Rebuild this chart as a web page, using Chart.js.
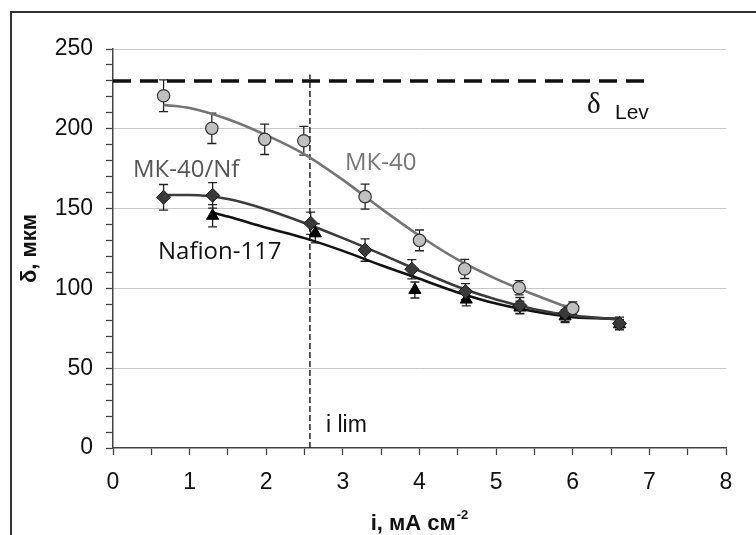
<!DOCTYPE html>
<html><head><meta charset="utf-8">
<script src="https://cdn.jsdelivr.net/npm/chart.js@4.4.0/dist/chart.umd.min.js"></script>
<style>html,body{margin:0;padding:0;background:#fff}canvas{display:block}</style>
</head><body>
<canvas id="c" width="756" height="535"></canvas>
<script>
// ---- data ----
const xTickValues = [0,1,2,3,4,5,6,7,8];
const yTickValues = [0,50,100,150,200,250];

const mk40X   = [0.66,1.29,1.98,2.49,3.29,4.0,4.59,5.3,6.0];
const mk40Y   = [220.7,200.3,193.4,192.5,157.5,130.1,112.2,100.4,87.5];
const mk40Err = [10,9.5,9.5,9,7.8,6.5,6,4.5,4];

const mknfX   = [0.66,1.3,2.58,3.29,3.9,4.6,5.31,5.9,6.61];
const mknfY   = [157.1,158.3,140.8,124,112,98,89.3,84.4,78];
const mknfErr = [8,8,7,7,6,5,5,5,4];

const nafX    = [1.3,2.64,3.94,4.61,5.31,5.9,6.61];
const nafY    = [145.5,134.5,99,93,88,82.5,77.5];
const nafErr  = [7,6,5,4,4,4,3];

const mk40FitX = [0.66,1.0,1.5,2.0,2.5,3.0,3.5,4.0,4.5,5.0,5.5,6.0];
const mk40FitY = [215,213,206,196,184,168,150,133,118,106,96,87];
const mknfFitX = [0.66,1.0,1.5,2.0,2.5,3.0,3.5,4.0,4.5,5.0,5.5,6.0,6.62];
const mknfFitY = [158.5,158.5,156,149.5,141,131.5,121.5,111,101,93,87,83,80.5];
const nafFitX  = [1.3,1.5,2.0,2.5,3.0,3.5,4.0,4.5,5.0,5.5,6.0,6.62];
const nafFitY  = [147.5,145,138,131.5,123.5,114.5,106,97.5,90.5,85.5,82,81];

const levY = 230, levX = [0,7];
const iLimX = 2.57, iLimTop = 234;

const pts = (xs, ys) => xs.map((x,i)=>({x, y: ys[i]}));

const errSeries = [
  {x: mk40X, y: mk40Y, e: mk40Err},
  {x: mknfX, y: mknfY, e: mknfErr},
  {x: nafX,  y: nafY,  e: nafErr}
];

const annot = {
  id: 'annot',
  beforeDatasetsDraw(chart){
    const {ctx, scales:{x, y}} = chart;
    ctx.save();
    ctx.strokeStyle = '#222'; ctx.lineWidth = 1.3;
    for (const s of errSeries){
      for (let i=0;i<s.x.length;i++){
        const px = x.getPixelForValue(s.x[i]);
        const t = y.getPixelForValue(s.y[i]+s.e[i]);
        const b = y.getPixelForValue(s.y[i]-s.e[i]);
        ctx.beginPath();
        ctx.moveTo(px,t); ctx.lineTo(px,b);
        ctx.moveTo(px-4.5,t); ctx.lineTo(px+4.5,t);
        ctx.moveTo(px-4.5,b); ctx.lineTo(px+4.5,b);
        ctx.stroke();
      }
    }
    ctx.restore();
  },
  afterDraw(chart){
    const {ctx, scales:{x, y}} = chart;
    ctx.save();
    // frame
    ctx.strokeStyle = '#333'; ctx.lineWidth = 2;
    ctx.beginPath(); ctx.moveTo(11,535); ctx.lineTo(11,12); ctx.lineTo(756,12); ctx.stroke();
    // series labels
    ctx.textBaseline = 'alphabetic'; ctx.textAlign = 'left';
    ctx.font = '24px "Open Sans"';
    ctx.fillStyle = '#555'; ctx.fillText('МК-40/Nf', 133, 177);
    ctx.fillStyle = '#777'; ctx.fillText('МК-40', 345, 170);
    ctx.fillStyle = '#111'; ctx.fillText('Nafion-117', 158, 259);
    // delta Lev
    ctx.fillStyle = '#111';
    ctx.font = '29px "Liberation Serif"'; ctx.fillText('δ', 587, 113);
    ctx.font = '21px "Liberation Sans"'; ctx.fillText('Lev', 615, 119);
    // i lim
    ctx.font = '23px "Liberation Sans"'; ctx.fillText('i lim', 326, 432);
    // y title
    ctx.font = 'bold 22px "Liberation Sans"';
    ctx.textAlign = 'center'; ctx.textBaseline = 'middle';
    ctx.translate(30, (y.top+y.bottom)/2); ctx.rotate(-Math.PI/2);
    ctx.fillText('δ, мкм', 0, 0);
    ctx.setTransform(1,0,0,1,0,0);
    // x title with superscript
    const main = 'i, мА см', sup = '-2';
    ctx.textAlign = 'left'; ctx.textBaseline = 'alphabetic';
    ctx.font = 'bold 22px "Liberation Sans"';
    const w1 = ctx.measureText(main).width;
    ctx.font = 'bold 13px "Liberation Sans"';
    const w2 = ctx.measureText(sup).width;
    const cx = (x.left + x.right)/2;
    const sx = cx - (w1+w2+1)/2;
    ctx.font = 'bold 22px "Liberation Sans"';
    ctx.fillText(main, sx, 530);
    ctx.font = 'bold 13px "Liberation Sans"';
    ctx.fillText(sup, sx + w1 + 1, 519);
    ctx.restore();
  }
};

new Chart(document.getElementById('c'), {
  data: {
    datasets: [
      {type:'scatter', label:'МК-40', data: pts(mk40X, mk40Y), pointStyle:'circle', pointRadius:6.2,
       backgroundColor:'#c0c0c0', borderColor:'#333', borderWidth:1.2, order:0},
      {type:'scatter', label:'МК-40/Nf', data: pts(mknfX, mknfY), pointStyle:'rectRot', pointRadius:7,
       backgroundColor:'#3a3a3a', borderColor:'#1a1a1a', borderWidth:1, order:0},
      {type:'scatter', label:'Nafion-117', data: pts(nafX, nafY), pointStyle:'triangle', pointRadius:7,
       backgroundColor:'#000', borderColor:'#000', borderWidth:1, order:0},
      {type:'line', label:'МК-40 fit', data: pts(mk40FitX, mk40FitY), borderColor:'#747474', borderWidth:2.6,
       pointRadius:0, cubicInterpolationMode:'monotone', fill:false, order:5},
      {type:'line', label:'МК-40/Nf fit', data: pts(mknfFitX, mknfFitY), borderColor:'#3c3c3c', borderWidth:2.6,
       pointRadius:0, cubicInterpolationMode:'monotone', fill:false, order:5},
      {type:'line', label:'Nafion-117 fit', data: pts(nafFitX, nafFitY), borderColor:'#111', borderWidth:2.6,
       pointRadius:0, cubicInterpolationMode:'monotone', fill:false, order:5},
      {type:'line', label:'δ Lev', data: levX.map(v=>({x:v, y:levY})), borderColor:'#111', borderWidth:3.5,
       borderDash:[18,9], pointRadius:0, fill:false, order:6},
      {type:'line', label:'i lim', data: [{x:iLimX,y:0},{x:iLimX,y:iLimTop}], borderColor:'#222', borderWidth:1.5,
       borderDash:[6,3], pointRadius:0, fill:false, order:6}
    ]
  },
  options: {
    responsive:false, animation:false, devicePixelRatio:1,
    layout:{padding:{left:0, right:30, top:49, bottom:0}},
    plugins:{legend:{display:false}, tooltip:{enabled:false}},
    scales:{
      x:{type:'linear', min:0, max:8,
        afterFit(s){ s.height = 87; },
        afterBuildTicks(s){ const t=[]; for(let v=0; v<=16; v++) t.push({value:v/2}); s.ticks=t; },
        grid:{color:'rgba(0,0,0,0)', tickColor:'#444', tickLength:7, tickWidth:1.3},
        border:{color:'#444', width:1.5},
        ticks:{autoSkip:false, maxRotation:0, padding:14, color:'#111',
          font:{family:'"Liberation Sans"', size:23},
          callback:(v)=> xTickValues.includes(v) ? String(v) : ''}
      },
      y:{type:'linear', min:0, max:250,
        afterFit(s){ s.width = 113; },
        afterBuildTicks(s){ const t=[]; for(let v=0; v<=250; v+=10) t.push({value:v}); s.ticks=t; },
        grid:{color:(c)=> (c.tick && c.tick.value%50===0 && c.tick.value!==0) ? '#c8c8c8' : 'rgba(0,0,0,0)',
              tickColor:'#444', tickLength:7, tickWidth:1.3, lineWidth:1},
        border:{color:'#444', width:1.5},
        ticks:{autoSkip:false, padding:13, color:'#111',
          font:{family:'"Liberation Sans"', size:23},
          callback:(v)=> yTickValues.includes(v) ? String(v) : ''}
      }
    }
  },
  plugins:[annot]
});
</script>
</body></html>
